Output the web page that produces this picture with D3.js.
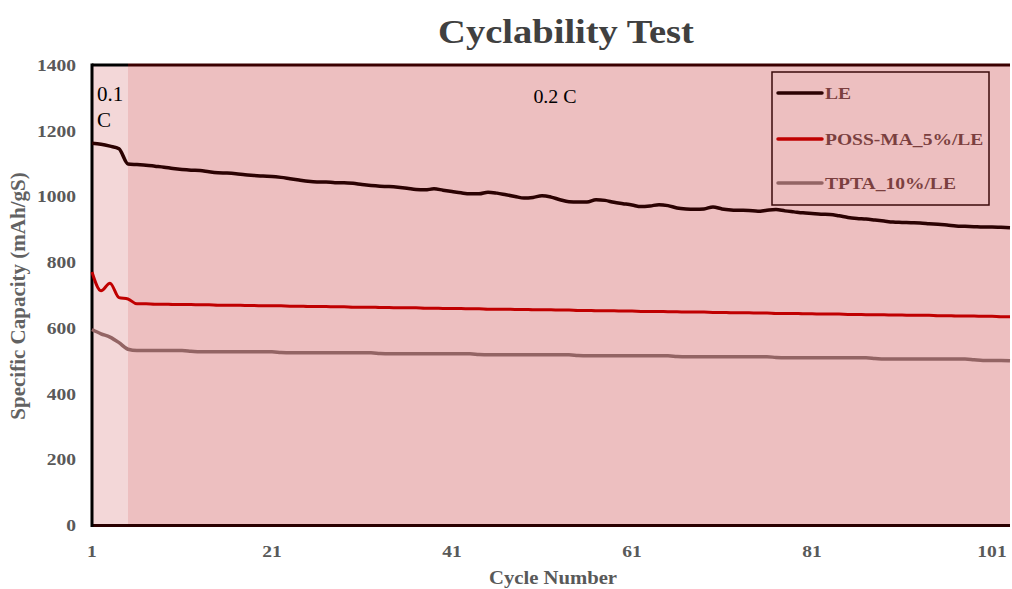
<!DOCTYPE html>
<html><head><meta charset="utf-8">
<script src="https://cdn.jsdelivr.net/npm/d3@7/dist/d3.min.js"></script>
<style>body{margin:0;background:#fff}svg{display:block}</style>
</head><body>
<svg id="c" width="1012" height="589"></svg>
<script>
const seriesNames = ["LE", "POSS-MA_5%/LE", "TPTA_10%/LE"];
const seriesColors = ["#2b0202", "#c00000", "#936464"];
const LE = [1162,1159,1153,1145,1099,1097,1095,1092,1089,1085,1082,1080,1079,1075,1072,1071,1069,1066,1064,1062,
1061,1058,1054,1050,1046,1044,1044,1042,1042,1040,1036,1033,1031,1030,1028,1025,1021,1020,1023,1019,
1015,1011,1008,1008,1013,1010,1005,1000,995,997,1002,998,990,984,983,983,990,988,982,978,
974,969,971,975,972,965,962,961,962,968,962,959,958,957,955,958,960,956,953,950,
948,946,945,941,936,933,931,928,925,922,921,920,919,917,915,913,910,909,908,907,
907,906,905];
const POSS = [770,713,736,692,688,673,673,672,672,671,671,671,670,670,669,669,669,668,668,667,
667,667,666,666,665,665,665,664,664,663,663,663,662,662,661,661,661,660,660,659,
659,659,658,658,657,657,657,656,656,655,655,655,654,654,653,653,652,652,652,651,
651,650,650,650,649,649,648,648,648,647,647,646,646,646,645,645,644,644,644,643,
643,642,642,642,641,641,640,640,640,639,639,638,638,638,637,637,636,636,636,635,
635,634,634];
const TPTA = [595,582,572,555,535,531,531,531,531,531,531,529,527,527,527,527,527,527,527,527,
527,525,524,524,524,524,524,524,524,524,524,524,522,521,521,521,521,521,521,521,
521,521,521,519,518,518,518,518,518,518,518,518,518,518,516,515,515,515,515,515,
515,515,515,515,515,513,512,512,512,512,512,512,512,512,512,512,510,509,509,509,
509,509,509,509,509,509,509,507,505,505,505,505,505,505,505,505,505,505,503,501,
501,501,500];
const xTicks = [1,21,41,61,81,101];
const yTicks = [0,200,400,600,800,1000,1200,1400];
const phases = [{label:"0.1 C", from:1, to:5}, {label:"0.2 C", from:5, to:103}];
const cycles = LE.map((d,i)=>i+1);

const svg = d3.select("#c");
const M = {l:92, r:1010, t:65, b:525};
const x = d3.scaleLinear().domain([1,103]).range([M.l, M.r]);
const y = d3.scaleLinear().domain([0,1400]).range([M.b, M.t]);
const SX = 1.15;
const serif = "'Liberation Serif','Times New Roman',serif";

function txt(g, tx, ty, s, opt){
  const t = g.append("text")
    .attr("transform", `translate(${tx},${ty}) scale(${opt.sx||SX},1)` + (opt.rot?` rotate(${opt.rot})`:""))
    .attr("font-family", serif).attr("font-size", opt.size)
    .attr("font-weight", opt.bold===false?"normal":"bold")
    .attr("fill", opt.fill||"#595959")
    .attr("text-anchor", opt.anchor||"middle")
    .text(s);
  if (opt.dy) t.attr("dy", opt.dy);
  return t;
}

// phase backgrounds
const phaseFill = ["#f3d7d8", "#edbfc0"];
const phaseTop = ["#000000", "#3a0000"];
phases.forEach((p,i)=>{
  svg.append("rect").attr("x", x(p.from)).attr("y", y(1400))
    .attr("width", x(p.to)-x(p.from)).attr("height", y(0)-y(1400))
    .attr("fill", phaseFill[i]);
  svg.append("line").attr("x1", x(p.from)).attr("x2", x(p.to))
    .attr("y1", y(1400)).attr("y2", y(1400))
    .attr("stroke", phaseTop[i]).attr("stroke-width", 3);
});

// axes
svg.append("line").attr("x1", M.l).attr("x2", M.r).attr("y1", y(0)+0.5).attr("y2", y(0)+0.5)
  .attr("stroke", "#2a0000").attr("stroke-width", 3);
svg.append("line").attr("x1", M.l).attr("x2", M.l).attr("y1", y(1400)-1.5).attr("y2", y(0)+2)
  .attr("stroke", "#000").attr("stroke-width", 3);

const g = svg.append("g");
yTicks.forEach(v=>txt(g, 76, y(v), d3.format("")(v), {size:17, anchor:"end", dy:"0.35em"}));
xTicks.forEach(v=>txt(g, x(v), 557, String(v), {size:17}));

txt(g, 553, 584, "Cycle Number", {size:18, fill:"#595959"});
txt(g, 25, 296, "Specific Capacity (mAh/gS)", {size:21, fill:"#626262", rot:-90, sx:1});
txt(g, 566, 43, "Cyclability Test", {size:33.5, fill:"#404040"});

// phase labels
txt(g, 97, 101, "0.1", {size:20, bold:false, fill:"#000", anchor:"start", sx:1.05});
txt(g, 97, 127, "C", {size:20, bold:false, fill:"#000", anchor:"start", sx:1.05});
txt(g, 555, 103, phases[1].label, {size:19, bold:false, fill:"#000", sx:1.05});

// lines
const line = d3.line().x((d,i)=>x(cycles[i])).y(d=>y(d)).curve(d3.curveMonotoneX);
[LE, POSS, TPTA].forEach((s,i)=>{
  svg.append("path").datum(s).attr("d", line).attr("fill","none")
    .attr("stroke", seriesColors[i]).attr("stroke-width", i===1?3:3.5)
    .attr("stroke-linejoin","round");
});

// legend
const lg = svg.append("g");
lg.append("rect").attr("x", 772).attr("y", 72).attr("width", 217).attr("height", 133)
  .attr("fill", "none").attr("stroke", "#3a0a0a").attr("stroke-width", 1.5);
[93, 139, 183].forEach((ly,i)=>{
  lg.append("line").attr("x1", 778).attr("x2", 822).attr("y1", ly).attr("y2", ly)
    .attr("stroke", seriesColors[i]).attr("stroke-width", 3.5).attr("stroke-linecap","round");
  txt(lg, 825, ly, seriesNames[i], {size:17, anchor:"start", fill:"#7b3f3f", dy:"0.35em"});
});
</script>
</body></html>
